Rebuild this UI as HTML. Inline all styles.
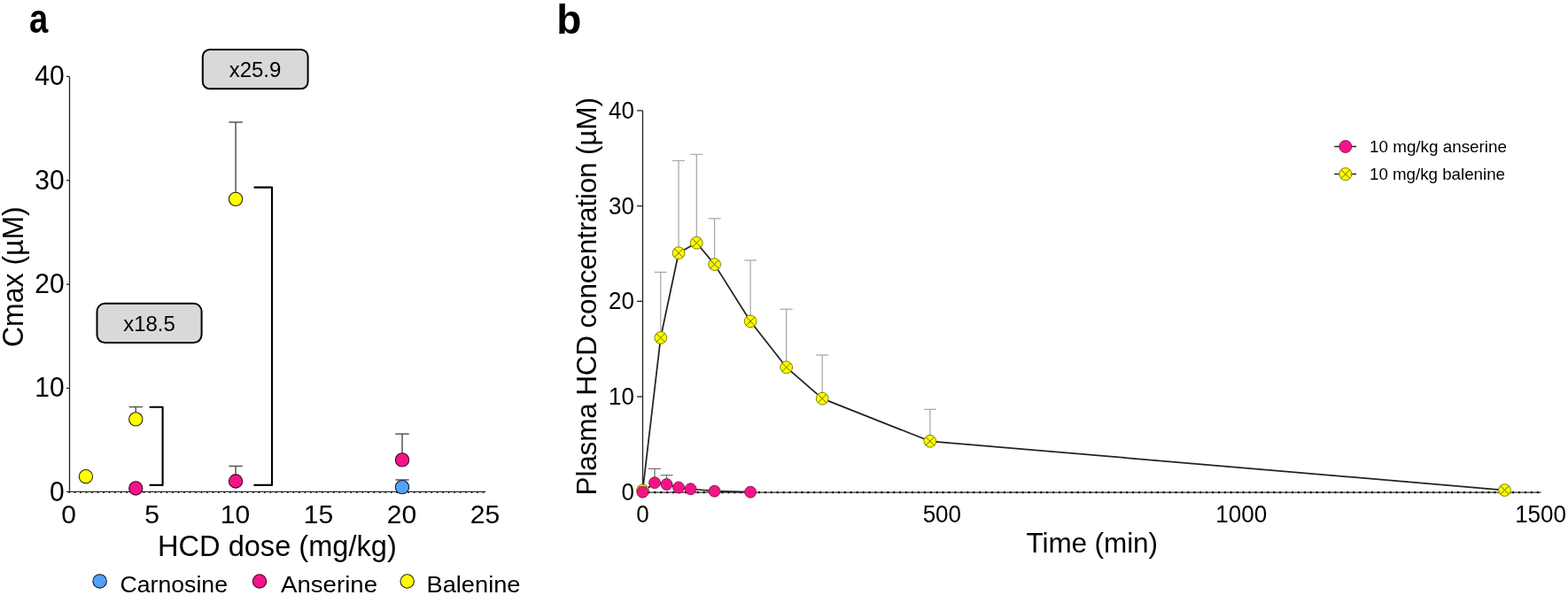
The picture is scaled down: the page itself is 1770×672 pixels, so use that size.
<!DOCTYPE html>
<html>
<head>
<meta charset="utf-8">
<title>Figure</title>
<style>
html,body{margin:0;padding:0;background:#fff;}
body{width:1770px;height:672px;overflow:hidden;}
svg{display:block;}
text{font-family:"Liberation Sans",Arial,sans-serif;fill:#000;}
</style>
</head>
<body>
<svg width="1770" height="672" viewBox="0 0 1770 672">
<text transform="translate(34.2,36.5) scale(0.83,1)" x="-1.5" y="0" font-size="46" font-weight="bold">a</text>
<g stroke="#222" stroke-width="1.3" fill="none">
<line x1="78.5" y1="86.4" x2="78.5" y2="556"/>
<line x1="75" y1="86.40" x2="78.5" y2="86.40"/>
<line x1="75" y1="203.75" x2="78.5" y2="203.75"/>
<line x1="75" y1="321.10" x2="78.5" y2="321.10"/>
<line x1="75" y1="438.45" x2="78.5" y2="438.45"/>
</g>
<line x1="75" y1="555.4" x2="548.4" y2="555.4" stroke="#333" stroke-width="1.3"/>
<line x1="77.35" y1="556.3" x2="548.4" y2="556.3" stroke="#000" stroke-width="1.5" stroke-dasharray="1.5 4.993"/>
<g font-size="30" text-anchor="end">
<text transform="translate(72.6,96.30) scale(1,1.025)">40</text>
<text transform="translate(72.6,213.65) scale(1,1.025)">30</text>
<text transform="translate(72.6,331.00) scale(1,1.025)">20</text>
<text transform="translate(72.6,448.35) scale(1,1.025)">10</text>
<text transform="translate(72.6,565.70) scale(1,1.025)">0</text>
</g>
<g font-size="30" text-anchor="middle">
<text transform="translate(77.60,591.2)">0</text>
<text transform="translate(171.57,591.2)">5</text>
<text transform="translate(265.55,591.2)">10</text>
<text transform="translate(359.52,591.2)">15</text>
<text transform="translate(453.50,591.2)">20</text>
<text transform="translate(547.48,591.2)">25</text>
</g>
<text x="178" y="627.5" font-size="32.6">HCD dose (mg/kg)</text>
<text transform="translate(26,392) rotate(-90) scale(1,1.04)" font-size="32">Cmax (µM)</text>
<rect x="228.8" y="55.9" width="118.8" height="44.4" rx="8" ry="8" fill="#d9d9d9" stroke="#000" stroke-width="2"/>
<text x="288" y="87.2" font-size="24" text-anchor="middle">x25.9</text>
<rect x="109.5" y="342.7" width="118.1" height="44.4" rx="9" ry="9" fill="#d9d9d9" stroke="#000" stroke-width="2"/>
<text x="168.5" y="373.8" font-size="24" text-anchor="middle">x18.5</text>
<g stroke="#000" stroke-width="2.1" fill="none" stroke-linejoin="round" stroke-linecap="round">
<polyline points="169.5,459.8 183.6,459.8 183.6,547.9 169.5,547.9"/>
<polyline points="287.3,211.6 307,211.6 307,547.9 287.3,547.9"/>
</g>
<g stroke="#555" stroke-width="1.5" fill="none">
<line x1="153.28" y1="459.57" x2="153.28" y2="473.42"/>
<line x1="145.63" y1="459.57" x2="160.93" y2="459.57"/>
<line x1="266.05" y1="138.03" x2="266.05" y2="224.87"/>
<line x1="258.40" y1="138.03" x2="273.70" y2="138.03"/>
<line x1="266.05" y1="526.46" x2="266.05" y2="543.48"/>
<line x1="258.40" y1="526.46" x2="273.70" y2="526.46"/>
<line x1="454.00" y1="490.08" x2="454.00" y2="519.42"/>
<line x1="446.35" y1="490.08" x2="461.65" y2="490.08"/>
<line x1="454.00" y1="541.95" x2="454.00" y2="550.17"/>
<line x1="446.35" y1="541.95" x2="461.65" y2="541.95"/>
</g>
<g stroke-width="1.1">
<circle cx="96.89" cy="538.20" r="7.65" fill="#ffff00" stroke="#2a2a00"/>
<circle cx="153.28" cy="473.42" r="7.65" fill="#ffff00" stroke="#2a2a00"/>
<circle cx="153.28" cy="551.46" r="7.65" fill="#f3148a" stroke="#4a0024"/>
<circle cx="266.05" cy="224.87" r="7.65" fill="#ffff00" stroke="#2a2a00"/>
<circle cx="266.05" cy="543.48" r="7.65" fill="#f3148a" stroke="#4a0024"/>
<circle cx="454.00" cy="519.42" r="7.65" fill="#f3148a" stroke="#4a0024"/>
<circle cx="454.00" cy="550.17" r="7.65" fill="#56a0f6" stroke="#0a1e3c"/>
</g>
<g stroke-width="1.1">
<circle cx="112.6" cy="656.4" r="7.7" fill="#56a0f6" stroke="#0a1e3c"/>
<circle cx="293" cy="656.5" r="7.7" fill="#f3148a" stroke="#4a0024"/>
<circle cx="459.7" cy="656.5" r="7.7" fill="#ffff00" stroke="#2a2a00"/>
</g>
<g font-size="26.5">
<text x="135.5" y="669" textLength="121.5" lengthAdjust="spacingAndGlyphs">Carnosine</text>
<text x="317" y="669" textLength="109" lengthAdjust="spacingAndGlyphs">Anserine</text>
<text x="481.5" y="669" textLength="106" lengthAdjust="spacingAndGlyphs">Balenine</text>
</g>
<text x="628.2" y="37.5" font-size="46" font-weight="bold">b</text>
<g stroke="#222" stroke-width="1.3" fill="none">
<line x1="725.5" y1="125" x2="725.5" y2="556"/>
<line x1="719" y1="124.90" x2="725.5" y2="124.90"/>
<line x1="719" y1="232.60" x2="725.5" y2="232.60"/>
<line x1="719" y1="340.30" x2="725.5" y2="340.30"/>
<line x1="719" y1="448.00" x2="725.5" y2="448.00"/>
</g>
<line x1="725.5" y1="556.2" x2="1739.5" y2="556.2" stroke="#333" stroke-width="1.3"/>
<line x1="724.5" y1="556.1" x2="1739.5" y2="556.1" stroke="#000" stroke-width="2.2" stroke-dasharray="2 4.92"/>
<g font-size="26" text-anchor="end">
<text transform="translate(716,133.80) scale(1,1.06)">40</text>
<text transform="translate(716,241.50) scale(1,1.06)">30</text>
<text transform="translate(716,349.20) scale(1,1.06)">20</text>
<text transform="translate(716,456.90) scale(1,1.06)">10</text>
<text transform="translate(716,564.60) scale(1,1.06)">0</text>
</g>
<g font-size="26" text-anchor="middle">
<text transform="translate(725.50,589.6) scale(1,1.06)">0</text>
<text transform="translate(1063.35,589.6) scale(1,1.06)">500</text>
<text transform="translate(1401.20,589.6) scale(1,1.06)">1000</text>
<text transform="translate(1739.05,589.6) scale(1,1.06)">1500</text>
</g>
<text x="1158.5" y="624.3" font-size="31.5" textLength="148.5" lengthAdjust="spacing">Time (min)</text>
<text transform="translate(673,559.4) rotate(-90)" font-size="31.5" textLength="449.3" lengthAdjust="spacing">Plasma HCD concentration (µM)</text>
<g stroke="#a8a8a8" stroke-width="1.25" fill="none">
<line x1="745.77" y1="307.45" x2="745.77" y2="381.44"/>
<line x1="738.77" y1="307.45" x2="752.77" y2="307.45"/>
<line x1="766.04" y1="181.44" x2="766.04" y2="285.70"/>
<line x1="759.04" y1="181.44" x2="773.04" y2="181.44"/>
<line x1="786.31" y1="174.44" x2="786.31" y2="274.28"/>
<line x1="779.31" y1="174.44" x2="793.31" y2="174.44"/>
<line x1="806.58" y1="246.82" x2="806.58" y2="298.62"/>
<line x1="799.58" y1="246.82" x2="813.58" y2="246.82"/>
<line x1="847.13" y1="293.99" x2="847.13" y2="362.92"/>
<line x1="840.13" y1="293.99" x2="854.13" y2="293.99"/>
<line x1="887.67" y1="349.24" x2="887.67" y2="414.83"/>
<line x1="880.67" y1="349.24" x2="894.67" y2="349.24"/>
<line x1="928.21" y1="401.04" x2="928.21" y2="450.15"/>
<line x1="921.21" y1="401.04" x2="935.21" y2="401.04"/>
<line x1="1049.84" y1="462.32" x2="1049.84" y2="498.30"/>
<line x1="1042.84" y1="462.32" x2="1056.84" y2="462.32"/>
</g>
<g stroke="#6e6e6e" stroke-width="1.2" fill="none">
<line x1="739.01" y1="529.42" x2="739.01" y2="545.25"/>
<line x1="732.01" y1="529.42" x2="746.01" y2="529.42"/>
<line x1="752.53" y1="536.74" x2="752.53" y2="547.08"/>
<line x1="745.53" y1="536.74" x2="759.53" y2="536.74"/>
</g>
<polyline fill="none" stroke="#222" stroke-width="1.75" stroke-linejoin="round" points="725.50,553.87 745.77,381.44 766.04,285.70 786.31,274.28 806.58,298.62 847.13,362.92 887.67,414.83 928.21,450.15 1049.84,498.30 1698.51,553.55"/>
<polyline fill="none" stroke="#222" stroke-width="1.75" stroke-linejoin="round" points="725.50,555.70 739.01,545.25 752.53,547.08 766.04,550.53 779.56,552.25 806.58,554.73 847.13,555.70"/>
<g stroke="#7d7d00" stroke-width="1" fill="#ffff00">
<circle cx="725.50" cy="553.87" r="6.85"/>
<circle cx="745.77" cy="381.44" r="6.85"/>
<circle cx="766.04" cy="285.70" r="6.85"/>
<circle cx="786.31" cy="274.28" r="6.85"/>
<circle cx="806.58" cy="298.62" r="6.85"/>
<circle cx="847.13" cy="362.92" r="6.85"/>
<circle cx="887.67" cy="414.83" r="6.85"/>
<circle cx="928.21" cy="450.15" r="6.85"/>
<circle cx="1049.84" cy="498.30" r="6.85"/>
<circle cx="1698.51" cy="553.55" r="6.85"/>
</g>
<path d="M720.66,549.03L730.34,558.71M730.34,549.03L720.66,558.71M740.93,376.60L750.61,386.28M750.61,376.60L740.93,386.28M761.20,280.85L770.88,290.54M770.88,280.85L761.20,290.54M781.47,269.44L791.16,279.12M791.16,269.44L781.47,279.12M801.74,293.78L811.43,303.46M811.43,293.78L801.74,303.46M842.28,358.07L851.97,367.76M851.97,358.07L842.28,367.76M882.83,409.99L892.51,419.67M892.51,409.99L882.83,419.67M923.37,445.31L933.05,455.00M933.05,445.31L923.37,455.00M1044.99,493.45L1054.68,503.14M1054.68,493.45L1044.99,503.14M1693.67,548.70L1703.35,558.39M1703.35,548.70L1693.67,558.39" stroke="#6b6b00" stroke-width="1" fill="none"/>
<g stroke="#7a0a40" stroke-width="0.8" fill="#f3148a">
<circle cx="725.50" cy="555.70" r="6.5"/>
<circle cx="739.01" cy="545.25" r="6.5"/>
<circle cx="752.53" cy="547.08" r="6.5"/>
<circle cx="766.04" cy="550.53" r="6.5"/>
<circle cx="779.56" cy="552.25" r="6.5"/>
<circle cx="806.58" cy="554.73" r="6.5"/>
<circle cx="847.13" cy="555.70" r="6.5"/>
</g>
<line x1="1506.2" y1="165.5" x2="1531" y2="165.5" stroke="#222" stroke-width="1.5"/>
<circle cx="1518.8" cy="165.5" r="7" fill="#f3148a" stroke="#7a0a40" stroke-width="0.8"/>
<line x1="1506.2" y1="196.6" x2="1531" y2="196.6" stroke="#222" stroke-width="1.5"/>
<circle cx="1518.8" cy="196.6" r="7" fill="#ffff00" stroke="#7d7d00" stroke-width="1"/>
<path d="M1513.85,191.65L1523.75,201.55M1523.75,191.65L1513.85,201.55" stroke="#6b6b00" stroke-width="1"/>
<g font-size="19">
<text x="1546" y="172.3" textLength="155" lengthAdjust="spacingAndGlyphs">10 mg/kg anserine</text>
<text x="1546" y="203.4" textLength="153" lengthAdjust="spacingAndGlyphs">10 mg/kg balenine</text>
</g>
</svg>
</body>
</html>
